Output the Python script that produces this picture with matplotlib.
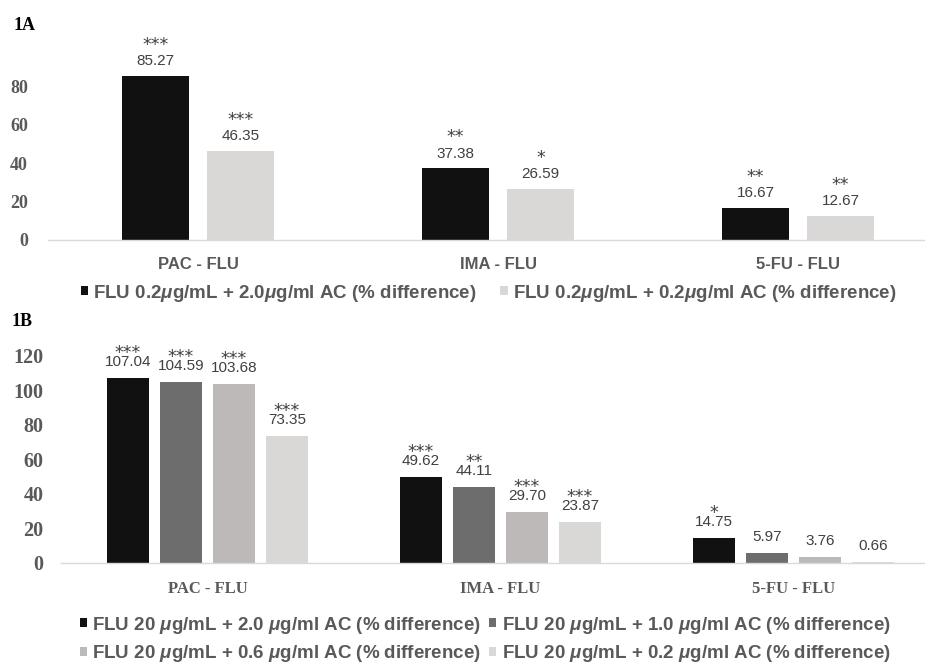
import numpy as np
import matplotlib
matplotlib.use('Agg')
import matplotlib.pyplot as plt

plt.rcParams['mathtext.fontset'] = 'custom'
plt.rcParams['mathtext.it'] = 'Liberation Sans:italic:bold'
plt.rcParams['mathtext.rm'] = 'Liberation Sans:bold'

categories = ['PAC - FLU', 'IMA - FLU', '5-FU - FLU']

# panel 1A
a_labels = ['FLU 0.2$\\mu$g/mL + 2.0$\\mu$g/ml AC (% difference)',
            'FLU 0.2$\\mu$g/mL + 0.2$\\mu$g/ml AC (% difference)']
a_values = [[85.27, 37.38, 16.67],
            [46.35, 26.59, 12.67]]
a_stars = [['***', '**', '**'],
           ['***', '*', '**']]
a_ticks = [0, 20, 40, 60, 80]

# panel 1B
b_labels = ['FLU 20 $\\mu$g/mL + 2.0 $\\mu$g/ml AC (% difference)',
            'FLU 20 $\\mu$g/mL + 1.0 $\\mu$g/ml AC (% difference)',
            'FLU 20 $\\mu$g/mL + 0.6 $\\mu$g/ml AC (% difference)',
            'FLU 20 $\\mu$g/mL + 0.2 $\\mu$g/ml AC (% difference)']
b_values = [[107.04, 49.62, 14.75],
            [104.59, 44.11, 5.97],
            [103.68, 29.70, 3.76],
            [73.35, 23.87, 0.66]]
b_stars = [['***', '***', '*'],
           ['***', '**', ''],
           ['***', '***', ''],
           ['***', '***', '']]
b_ticks = [0, 20, 40, 60, 80, 100, 120]

a_colors = ['#111111', '#d9d8d6']
b_colors = ['#111111', '#6d6d6d', '#bcb9b8', '#d9d8d6']

W, H = 925, 668
fig = plt.figure(figsize=(W / 100, H / 100), dpi=100)


def px_axes(left, baseline, width, height):
    return fig.add_axes([left / W, (H - baseline) / H, width / W, height / H])


def style_axes(ax, ticks, tick_size, tick_pad, cat_font, cat_size, cat_pad):
    for s in ['top', 'left', 'right']:
        ax.spines[s].set_visible(False)
    ax.spines['bottom'].set_color('#d9d9d9')
    ax.spines['bottom'].set_linewidth(1.0)
    ax.tick_params(axis='both', length=0)
    ax.tick_params(axis='y', pad=tick_pad)
    ax.tick_params(axis='x', pad=cat_pad)
    ax.set_yticks(ticks, [str(t) for t in ticks], family='Liberation Serif',
                  weight='bold', fontsize=tick_size, color='#595959')
    ax.set_xticks(np.arange(len(categories)), categories, family=cat_font,
                  weight='bold', fontsize=cat_size, color='#595959')


def add_labels(ax, bars, vals, stars, val_off, star_off):
    for b, v, s in zip(bars, vals, stars):
        x = b.get_x() + b.get_width() / 2
        ax.annotate(f'{v:.2f}', (x, v), xytext=(0, val_off), textcoords='offset points',
                    ha='center', va='baseline', fontsize=11, color='#404040',
                    family='Liberation Sans')
        if s:
            ax.annotate(s, (x, v), xytext=(0, star_off), textcoords='offset points',
                        ha='center', va='baseline', fontsize=12.5, color='#404040',
                        family='DejaVu Sans')


x = np.arange(len(categories))
leg_prop = {'family': 'Liberation Sans', 'weight': 'bold', 'size': 13.5}

# ---- 1A ----
axA = px_axes(48, 240, 900, 100 * 1.923)
barsA = []
for i, (vals, col, lab) in enumerate(zip(a_values, a_colors, a_labels)):
    bars = axA.bar(x + (i - 0.5) * 0.284, vals, width=0.223, color=col, label=lab)
    barsA.append(bars)
    add_labels(axA, bars, vals, a_stars[i], 7.6, 18.7)
axA.set_xlim(-0.5, 2.5)
axA.set_ylim(0, 100)
style_axes(axA, a_ticks, 13, 14.4, 'Liberation Sans', 12, 12)

fig.legend(handles=barsA, loc='center left', bbox_to_anchor=(81 / W, 1 - 293 / H),
           ncol=2, frameon=False, borderpad=0, borderaxespad=0,
           handlelength=0.38, handleheight=0.38, handletextpad=0.28,
           columnspacing=1.25, prop=leg_prop, labelcolor='#595959')

# ---- 1B ----
axB = px_axes(61, 563, 879, 130 * 1.728)
barsB = []
for i, (vals, col, lab) in enumerate(zip(b_values, b_colors, b_labels)):
    bars = axB.bar(x + (i - 1.5) * 0.181, vals, width=0.143, color=col, label=lab)
    barsB.append(bars)
    add_labels(axB, bars, vals, b_stars[i], 8.6, 14.4)
axB.set_xlim(-0.5, 2.5)
axB.set_ylim(0, 130)
style_axes(axB, b_ticks, 14.5, 12.7, 'Liberation Serif', 12, 13)

order = [barsB[0], barsB[2], barsB[1], barsB[3]]
fig.legend(handles=order, loc='center left', bbox_to_anchor=(80 / W, 1 - 639.5 / H),
           ncol=2, frameon=False, borderpad=0, borderaxespad=0,
           handlelength=0.38, handleheight=0.38, handletextpad=0.28,
           columnspacing=0.43, labelspacing=0.42, prop=leg_prop,
           labelcolor='#595959')

fig.text(14 / W, 1 - 26 / H, '1A', family='Liberation Serif', weight='bold',
         fontsize=13, va='center', ha='left')
fig.text(12 / W, 1 - 321 / H, '1B', family='Liberation Serif', weight='bold',
         fontsize=13, va='center', ha='left')

fig.savefig('out.png', dpi=100)
